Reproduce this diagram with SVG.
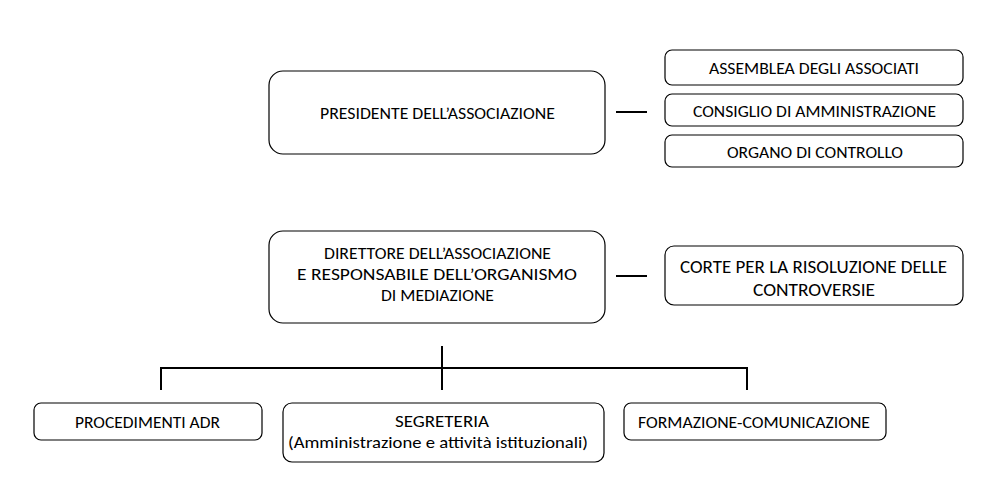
<svg xmlns="http://www.w3.org/2000/svg" width="997" height="495" viewBox="0 0 997 495">
<style>
.box{fill:#fff;stroke:#000;stroke-width:1.2}
.t{font-family:Carlito,Lato,"Liberation Sans",sans-serif;font-size:17px;fill:#000;text-anchor:middle;dominant-baseline:central}
.c{stroke:#000;stroke-width:2;fill:none}
</style>
<rect width="997" height="495" fill="#fff"/>
<g id="connectors">
<line class="c" x1="616" y1="112" x2="647" y2="112"/>
<line class="c" x1="616" y1="276" x2="647" y2="276"/>
<line class="c" x1="442" y1="346" x2="442" y2="390"/>
<polyline class="c" points="161,390 161,368 747,368 747,390"/>
</g>
<g id="presidente"><rect class="box" x="269" y="71" width="336" height="83" rx="14"/><text class="t" x="437.5" y="113" textLength="235" lengthAdjust="spacingAndGlyphs">PRESIDENTE DELL’ASSOCIAZIONE</text></g>
<g id="assemblea"><rect class="box" x="665" y="50" width="298" height="35" rx="7"/><text class="t" x="814" y="68" textLength="210" lengthAdjust="spacingAndGlyphs">ASSEMBLEA DEGLI ASSOCIATI</text></g>
<g id="consiglio"><rect class="box" x="665" y="94" width="298" height="32" rx="7"/><text class="t" x="814.5" y="111" textLength="243" lengthAdjust="spacingAndGlyphs">CONSIGLIO DI AMMINISTRAZIONE</text></g>
<g id="organo"><rect class="box" x="665" y="135" width="298" height="32" rx="7"/><text class="t" x="815" y="152" textLength="176" lengthAdjust="spacingAndGlyphs">ORGANO DI CONTROLLO</text></g>
<g id="direttore"><rect class="box" x="269" y="231" width="336" height="92" rx="14"/><text class="t" x="437.5" y="253" textLength="227" lengthAdjust="spacingAndGlyphs">DIRETTORE DELL’ASSOCIAZIONE</text><text class="t" x="437" y="274" textLength="280" lengthAdjust="spacingAndGlyphs">E RESPONSABILE DELL’ORGANISMO</text><text class="t" x="437.5" y="295" textLength="113" lengthAdjust="spacingAndGlyphs">DI MEDIAZIONE</text></g>
<g id="corte"><rect class="box" x="665" y="246" width="298" height="59" rx="9"/><text class="t" x="813.5" y="267" style="font-size:18px" textLength="267" lengthAdjust="spacingAndGlyphs">CORTE PER LA RISOLUZIONE DELLE</text><text class="t" x="814" y="290" style="font-size:18px" textLength="122" lengthAdjust="spacingAndGlyphs">CONTROVERSIE</text></g>
<g id="procedimenti"><rect class="box" x="34" y="403" width="228" height="37" rx="7"/><text class="t" x="147.5" y="422" textLength="145" lengthAdjust="spacingAndGlyphs">PROCEDIMENTI ADR</text></g>
<g id="segreteria"><rect class="box" x="283" y="403" width="321" height="59" rx="9"/><text class="t" x="442" y="421" textLength="94" lengthAdjust="spacingAndGlyphs">SEGRETERIA</text><text class="t" x="438" y="442" textLength="300" lengthAdjust="spacingAndGlyphs">(Amministrazione e attività istituzionali)</text></g>
<g id="formazione"><rect class="box" x="624" y="403" width="262" height="37" rx="7"/><text class="t" x="754" y="422" textLength="232" lengthAdjust="spacingAndGlyphs">FORMAZIONE-COMUNICAZIONE</text></g>
</svg>
